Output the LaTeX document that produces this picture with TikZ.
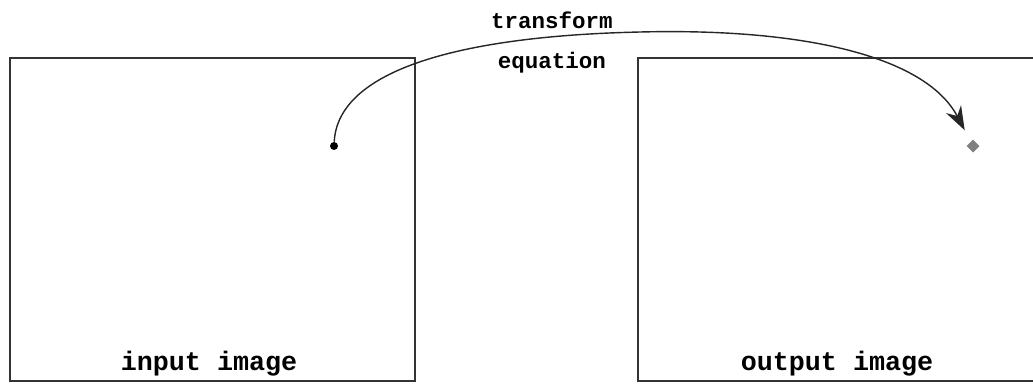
\documentclass[tikz,border=0pt]{standalone}
\usepackage{fontspec}
\newfontfamily\diagfont{Liberation Mono}
\usepackage{tikz}
\usetikzlibrary{shapes.geometric, arrows.meta, positioning}

\begin{document}
\begin{tikzpicture}[
  x=0.025cm, y=-0.025cm,
  imgbox/.style={rectangle, draw=black!80, line width=1.4pt, minimum height=8.075cm, inner sep=0pt},
  lbl/.style={font=\diagfont\bfseries\fontsize{19}{21}\selectfont, anchor=base, inner sep=0pt},
  eqlbl/.style={font=\diagfont\bfseries\fontsize{16}{18}\selectfont, anchor=base, inner sep=0pt},
  srcdot/.style={circle, fill=black, inner sep=0pt, minimum size=0.2cm},
  dstpix/.style={diamond, fill=black!50, inner sep=0pt, minimum size=0.33cm},
  arr/.style={-{Stealth[length=17pt, width=12pt]}, line width=1pt, black!85},
]
\useasboundingbox (0,0) rectangle (1033,383);

\node[imgbox, minimum width=10.125cm] (inbox)  at (212.5,219.5) {};
\node[imgbox, minimum width=10.05cm]  (outbox) at (839,219.5)   {};
\node[lbl] (inlbl)  at (209,370) {input image};
\node[lbl] (outlbl) at (837,370) {output image};

\node[srcdot] (src) at (334,146) {};
\node[dstpix] (dst) at (973,146) {};
\coordinate (top) at (640,32);

\node[eqlbl] (eqtop) at (552,28) {transform};
\node[eqlbl] (eqbot) at (552,68) {equation};

\draw[arr, shorten >=9pt] (src) .. controls (338,70) and (460,36) .. (top)
  .. controls (800,28) and (925,55) .. (dst);
\end{tikzpicture}
\end{document}
